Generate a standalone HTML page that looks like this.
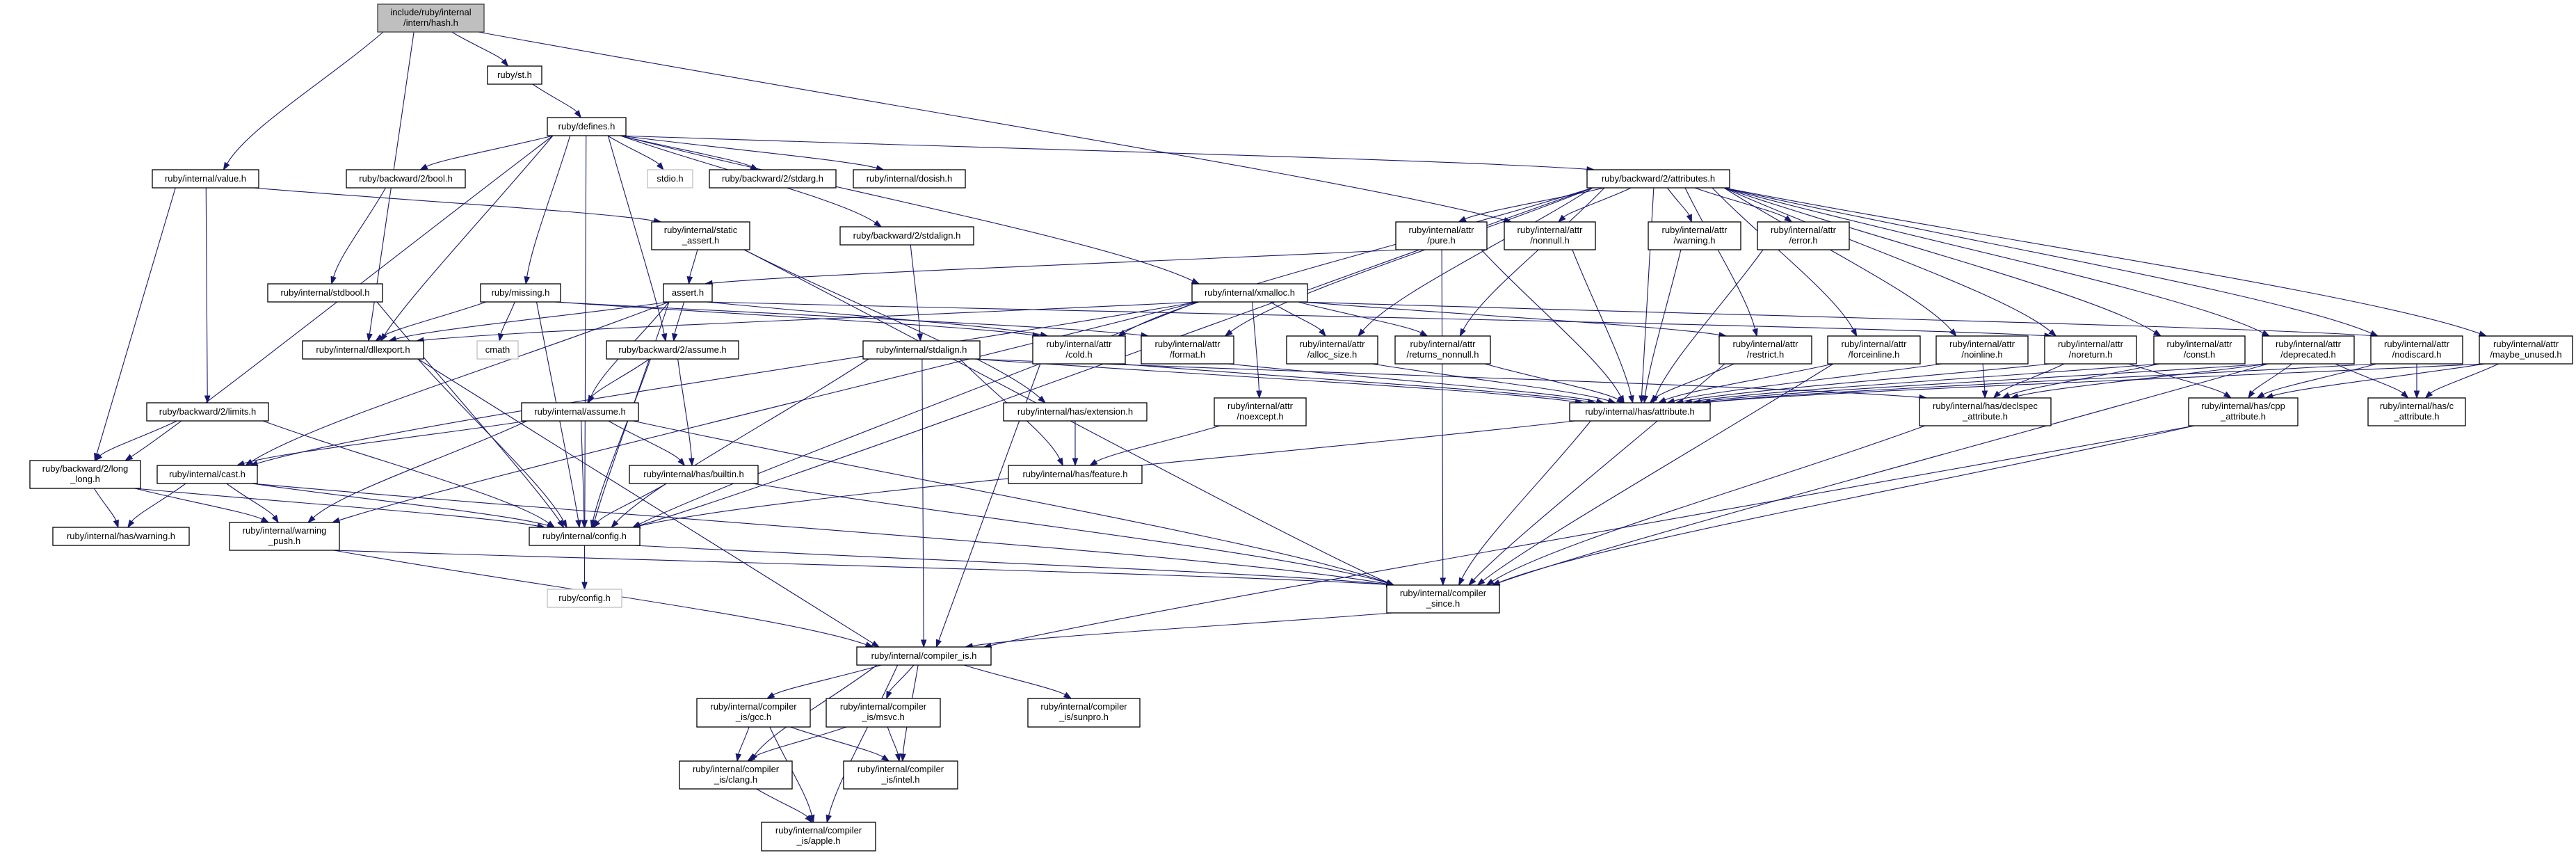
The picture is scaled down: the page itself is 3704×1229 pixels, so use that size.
<!DOCTYPE html>
<html><head><meta charset="utf-8"><style>
html,body{margin:0;padding:0;background:#fff;}
svg{display:block}
text{font-family:"Liberation Sans",sans-serif;font-size:13px;fill:#000;text-anchor:middle}
</style></head><body>
<svg id="g" width="3704" height="1229" viewBox="0 0 3704 1229" xmlns="http://www.w3.org/2000/svg">
<g id="edges" fill="none" stroke="#191970" stroke-width="1.1"></g>
<g id="heads" fill="#191970" stroke="#191970"></g>
<g id="nodes">
<rect x="543" y="6" width="153" height="40" fill="#bfbfbf" stroke="#404040" stroke-width="1.3"/><text x="619.5" y="22">include/ruby/internal</text><text x="619.5" y="37">/intern/hash.h</text>
<rect x="701" y="95" width="78" height="26" fill="#fff" stroke="#000" stroke-width="1.3"/><text x="740" y="112">ruby/st.h</text>
<rect x="787" y="169" width="113" height="26" fill="#fff" stroke="#000" stroke-width="1.3"/><text x="843.5" y="186">ruby/defines.h</text>
<rect x="219" y="244" width="153" height="26" fill="#fff" stroke="#000" stroke-width="1.3"/><text x="295.5" y="261">ruby/internal/value.h</text>
<rect x="498" y="244" width="171" height="26" fill="#fff" stroke="#000" stroke-width="1.3"/><text x="583.5" y="261">ruby/backward/2/bool.h</text>
<rect x="931" y="244" width="65" height="26" fill="#fff" stroke="#bfbfbf" stroke-width="1.3"/><text x="963.5" y="261">stdio.h</text>
<rect x="1020" y="244" width="182" height="26" fill="#fff" stroke="#000" stroke-width="1.3"/><text x="1111" y="261">ruby/backward/2/stdarg.h</text>
<rect x="1227" y="244" width="161" height="26" fill="#fff" stroke="#000" stroke-width="1.3"/><text x="1307.5" y="261">ruby/internal/dosish.h</text>
<rect x="2282" y="244" width="205" height="26" fill="#fff" stroke="#000" stroke-width="1.3"/><text x="2384.5" y="261">ruby/backward/2/attributes.h</text>
<rect x="937" y="319" width="141" height="40" fill="#fff" stroke="#000" stroke-width="1.3"/><text x="1007.5" y="335">ruby/internal/static</text><text x="1007.5" y="350">_assert.h</text>
<rect x="1208" y="326" width="192" height="26" fill="#fff" stroke="#000" stroke-width="1.3"/><text x="1304" y="343">ruby/backward/2/stdalign.h</text>
<rect x="2007" y="319" width="131" height="40" fill="#fff" stroke="#000" stroke-width="1.3"/><text x="2072.5" y="335">ruby/internal/attr</text><text x="2072.5" y="350">/pure.h</text>
<rect x="2163" y="319" width="131" height="40" fill="#fff" stroke="#000" stroke-width="1.3"/><text x="2228.5" y="335">ruby/internal/attr</text><text x="2228.5" y="350">/nonnull.h</text>
<rect x="2370" y="319" width="133" height="40" fill="#fff" stroke="#000" stroke-width="1.3"/><text x="2436.5" y="335">ruby/internal/attr</text><text x="2436.5" y="350">/warning.h</text>
<rect x="2527" y="319" width="132" height="40" fill="#fff" stroke="#000" stroke-width="1.3"/><text x="2593" y="335">ruby/internal/attr</text><text x="2593" y="350">/error.h</text>
<rect x="385" y="408" width="165" height="26" fill="#fff" stroke="#000" stroke-width="1.3"/><text x="467.5" y="425">ruby/internal/stdbool.h</text>
<rect x="691" y="408" width="115" height="26" fill="#fff" stroke="#000" stroke-width="1.3"/><text x="748.5" y="425">ruby/missing.h</text>
<rect x="954" y="408" width="70" height="26" fill="#fff" stroke="#000" stroke-width="1.3"/><text x="989" y="425">assert.h</text>
<rect x="1714" y="408" width="166" height="26" fill="#fff" stroke="#000" stroke-width="1.3"/><text x="1797" y="425">ruby/internal/xmalloc.h</text>
<rect x="435" y="490" width="174" height="26" fill="#fff" stroke="#000" stroke-width="1.3"/><text x="522" y="507">ruby/internal/dllexport.h</text>
<rect x="686" y="490" width="59" height="26" fill="#fff" stroke="#bfbfbf" stroke-width="1.3"/><text x="715.5" y="507">cmath</text>
<rect x="872" y="490" width="190" height="26" fill="#fff" stroke="#000" stroke-width="1.3"/><text x="967" y="507">ruby/backward/2/assume.h</text>
<rect x="1241" y="490" width="168" height="26" fill="#fff" stroke="#000" stroke-width="1.3"/><text x="1325" y="507">ruby/internal/stdalign.h</text>
<rect x="1485" y="483" width="133" height="40" fill="#fff" stroke="#000" stroke-width="1.3"/><text x="1551.5" y="499">ruby/internal/attr</text><text x="1551.5" y="514">/cold.h</text>
<rect x="1641" y="483" width="133" height="40" fill="#fff" stroke="#000" stroke-width="1.3"/><text x="1707.5" y="499">ruby/internal/attr</text><text x="1707.5" y="514">/format.h</text>
<rect x="1850" y="483" width="131" height="40" fill="#fff" stroke="#000" stroke-width="1.3"/><text x="1915.5" y="499">ruby/internal/attr</text><text x="1915.5" y="514">/alloc_size.h</text>
<rect x="2006" y="483" width="137" height="40" fill="#fff" stroke="#000" stroke-width="1.3"/><text x="2074.5" y="499">ruby/internal/attr</text><text x="2074.5" y="514">/returns_nonnull.h</text>
<rect x="2472" y="483" width="133" height="40" fill="#fff" stroke="#000" stroke-width="1.3"/><text x="2538.5" y="499">ruby/internal/attr</text><text x="2538.5" y="514">/restrict.h</text>
<rect x="2628" y="483" width="133" height="40" fill="#fff" stroke="#000" stroke-width="1.3"/><text x="2694.5" y="499">ruby/internal/attr</text><text x="2694.5" y="514">/forceinline.h</text>
<rect x="2784" y="483" width="132" height="40" fill="#fff" stroke="#000" stroke-width="1.3"/><text x="2850" y="499">ruby/internal/attr</text><text x="2850" y="514">/noinline.h</text>
<rect x="2940" y="483" width="132" height="40" fill="#fff" stroke="#000" stroke-width="1.3"/><text x="3006" y="499">ruby/internal/attr</text><text x="3006" y="514">/noreturn.h</text>
<rect x="3097" y="483" width="131" height="40" fill="#fff" stroke="#000" stroke-width="1.3"/><text x="3162.5" y="499">ruby/internal/attr</text><text x="3162.5" y="514">/const.h</text>
<rect x="3253" y="483" width="132" height="40" fill="#fff" stroke="#000" stroke-width="1.3"/><text x="3319" y="499">ruby/internal/attr</text><text x="3319" y="514">/deprecated.h</text>
<rect x="3409" y="483" width="132" height="40" fill="#fff" stroke="#000" stroke-width="1.3"/><text x="3475" y="499">ruby/internal/attr</text><text x="3475" y="514">/nodiscard.h</text>
<rect x="3565" y="483" width="134" height="40" fill="#fff" stroke="#000" stroke-width="1.3"/><text x="3632" y="499">ruby/internal/attr</text><text x="3632" y="514">/maybe_unused.h</text>
<rect x="211" y="579" width="175" height="26" fill="#fff" stroke="#000" stroke-width="1.3"/><text x="298.5" y="596">ruby/backward/2/limits.h</text>
<rect x="750" y="579" width="168" height="26" fill="#fff" stroke="#000" stroke-width="1.3"/><text x="834" y="596">ruby/internal/assume.h</text>
<rect x="1443" y="579" width="206" height="26" fill="#fff" stroke="#000" stroke-width="1.3"/><text x="1546" y="596">ruby/internal/has/extension.h</text>
<rect x="1746" y="572" width="132" height="40" fill="#fff" stroke="#000" stroke-width="1.3"/><text x="1812" y="588">ruby/internal/attr</text><text x="1812" y="603">/noexcept.h</text>
<rect x="2257" y="579" width="202" height="26" fill="#fff" stroke="#000" stroke-width="1.3"/><text x="2358" y="596">ruby/internal/has/attribute.h</text>
<rect x="2760" y="572" width="189" height="40" fill="#fff" stroke="#000" stroke-width="1.3"/><text x="2854.5" y="588">ruby/internal/has/declspec</text><text x="2854.5" y="603">_attribute.h</text>
<rect x="3147" y="572" width="157" height="40" fill="#fff" stroke="#000" stroke-width="1.3"/><text x="3225.5" y="588">ruby/internal/has/cpp</text><text x="3225.5" y="603">_attribute.h</text>
<rect x="3405" y="572" width="140" height="40" fill="#fff" stroke="#000" stroke-width="1.3"/><text x="3475" y="588">ruby/internal/has/c</text><text x="3475" y="603">_attribute.h</text>
<rect x="43" y="662" width="159" height="40" fill="#fff" stroke="#000" stroke-width="1.3"/><text x="122.5" y="678">ruby/backward/2/long</text><text x="122.5" y="693">_long.h</text>
<rect x="226" y="669" width="144" height="26" fill="#fff" stroke="#000" stroke-width="1.3"/><text x="298" y="686">ruby/internal/cast.h</text>
<rect x="905" y="669" width="185" height="26" fill="#fff" stroke="#000" stroke-width="1.3"/><text x="997.5" y="686">ruby/internal/has/builtin.h</text>
<rect x="1450" y="669" width="192" height="26" fill="#fff" stroke="#000" stroke-width="1.3"/><text x="1546" y="686">ruby/internal/has/feature.h</text>
<rect x="76" y="758" width="196" height="26" fill="#fff" stroke="#000" stroke-width="1.3"/><text x="174" y="775">ruby/internal/has/warning.h</text>
<rect x="330" y="751" width="158" height="40" fill="#fff" stroke="#000" stroke-width="1.3"/><text x="409" y="767">ruby/internal/warning</text><text x="409" y="782">_push.h</text>
<rect x="761" y="758" width="159" height="26" fill="#fff" stroke="#000" stroke-width="1.3"/><text x="840.5" y="775">ruby/internal/config.h</text>
<rect x="787" y="847" width="107" height="26" fill="#fff" stroke="#bfbfbf" stroke-width="1.3"/><text x="840.5" y="864">ruby/config.h</text>
<rect x="1994" y="841" width="162" height="40" fill="#fff" stroke="#000" stroke-width="1.3"/><text x="2075" y="857">ruby/internal/compiler</text><text x="2075" y="872">_since.h</text>
<rect x="1232" y="930" width="193" height="26" fill="#fff" stroke="#000" stroke-width="1.3"/><text x="1328.5" y="947">ruby/internal/compiler_is.h</text>
<rect x="1002" y="1004" width="163" height="41" fill="#fff" stroke="#000" stroke-width="1.3"/><text x="1083.5" y="1020">ruby/internal/compiler</text><text x="1083.5" y="1035">_is/gcc.h</text>
<rect x="1188" y="1004" width="164" height="41" fill="#fff" stroke="#000" stroke-width="1.3"/><text x="1270" y="1020">ruby/internal/compiler</text><text x="1270" y="1035">_is/msvc.h</text>
<rect x="1478" y="1004" width="161" height="41" fill="#fff" stroke="#000" stroke-width="1.3"/><text x="1558.5" y="1020">ruby/internal/compiler</text><text x="1558.5" y="1035">_is/sunpro.h</text>
<rect x="977" y="1094" width="162" height="40" fill="#fff" stroke="#000" stroke-width="1.3"/><text x="1058" y="1110">ruby/internal/compiler</text><text x="1058" y="1125">_is/clang.h</text>
<rect x="1213" y="1094" width="164" height="40" fill="#fff" stroke="#000" stroke-width="1.3"/><text x="1295" y="1110">ruby/internal/compiler</text><text x="1295" y="1125">_is/intel.h</text>
<rect x="1095" y="1182" width="164" height="41" fill="#fff" stroke="#000" stroke-width="1.3"/><text x="1177" y="1198">ruby/internal/compiler</text><text x="1177" y="1213">_is/apple.h</text>
</g>
</svg>
<script>
var N={hash:[543,6,696,46],st:[701,95,779,121],defines:[787,169,900,195],value:[219,244,372,270],bool:[498,244,669,270],stdio:[931,244,996,270],stdarg:[1020,244,1202,270],dosish:[1227,244,1388,270],attributes:[2282,244,2487,270],static_assert:[937,319,1078,359],stdalign_b:[1208,326,1400,352],pure:[2007,319,2138,359],nonnull:[2163,319,2294,359],warning:[2370,319,2503,359],error:[2527,319,2659,359],stdbool:[385,408,550,434],missing:[691,408,806,434],assert:[954,408,1024,434],xmalloc:[1714,408,1880,434],dllexport:[435,490,609,516],cmath:[686,490,745,516],assume_b:[872,490,1062,516],stdalign_i:[1241,490,1409,516],cold:[1485,483,1618,523],format:[1641,483,1774,523],alloc_size:[1850,483,1981,523],returns_nonnull:[2006,483,2143,523],restrict:[2472,483,2605,523],forceinline:[2628,483,2761,523],noinline:[2784,483,2916,523],noreturn:[2940,483,3072,523],"const":[3097,483,3228,523],deprecated:[3253,483,3385,523],nodiscard:[3409,483,3541,523],maybe_unused:[3565,483,3699,523],limits:[211,579,386,605],assume_i:[750,579,918,605],has_extension:[1443,579,1649,605],noexcept:[1746,572,1878,612],has_attribute:[2257,579,2459,605],declspec:[2760,572,2949,612],cpp:[3147,572,3304,612],c:[3405,572,3545,612],long_long:[43,662,202,702],cast:[226,669,370,695],has_builtin:[905,669,1090,695],has_feature:[1450,669,1642,695],has_warning:[76,758,272,784],warning_push:[330,751,488,791],config:[761,758,920,784],ruby_config:[787,847,894,873],compiler_since:[1994,841,2156,881],compiler_is:[1232,930,1425,956],gcc:[1002,1004,1165,1045],msvc:[1188,1004,1352,1045],sunpro:[1478,1004,1639,1045],clang:[977,1094,1139,1134],intel:[1213,1094,1377,1134],apple:[1095,1182,1259,1223]};
var E={hash:"value dllexport st nonnull",st:"defines",defines:"long_long dllexport bool missing assume_b stdio stdarg dosish attributes stdalign_b xmalloc config",value:"static_assert long_long limits",bool:"stdbool",stdbool:"config",static_assert:"assert has_extension compiler_since",stdalign_b:"stdalign_i",missing:"dllexport cmath config cold format",assert:"dllexport assume_b assume_i cast cold noreturn config",xmalloc:"dllexport alloc_size returns_nonnull noexcept restrict nodiscard config cast warning_push",attributes:"pure nonnull warning error cold format alloc_size returns_nonnull restrict forceinline noinline noreturn const deprecated nodiscard maybe_unused has_attribute config",pure:"assert has_attribute compiler_since",nonnull:"has_attribute",warning:"has_attribute",error:"has_attribute",stdalign_i:"config compiler_is has_attribute has_feature declspec",cold:"has_attribute compiler_is",format:"has_attribute",alloc_size:"has_attribute",returns_nonnull:"has_attribute",noexcept:"has_feature",restrict:"has_attribute compiler_since",forceinline:"has_attribute compiler_since",noinline:"has_attribute declspec",noreturn:"has_attribute declspec cpp","const":"has_attribute declspec",deprecated:"has_attribute declspec cpp c compiler_since",nodiscard:"has_attribute cpp c",maybe_unused:"has_attribute cpp c",has_attribute:"config compiler_since",declspec:"compiler_since",cpp:"compiler_since compiler_is",has_extension:"has_feature",dllexport:"config compiler_is",assume_b:"assume_i config has_builtin",assume_i:"cast config has_builtin warning_push compiler_since",limits:"long_long config",long_long:"has_warning warning_push config",cast:"has_warning warning_push config compiler_since",has_builtin:"config compiler_since",warning_push:"compiler_since compiler_is",config:"ruby_config compiler_since",compiler_since:"compiler_is",compiler_is:"gcc msvc sunpro clang intel apple",gcc:"clang intel apple",msvc:"clang intel",clang:"apple"};
var ns="http://www.w3.org/2000/svg",eg=document.getElementById("edges"),hg=document.getElementById("heads");
function cl(v,a,b){return Math.max(a,Math.min(b,v));}
for(var s in E){E[s].split(" ").forEach(function(t){
 var S=N[s],T=N[t];var scx=(S[0]+S[2])/2,tcx=(T[0]+T[2])/2;
 var dx=tcx-scx;
 var sx=cl(scx+dx*0.25,S[0]+8,S[2]-8),sy=S[3];
 var tx=cl(tcx-dx*0.08,T[0]+10,T[2]-10),ty=T[1];
 var dy=ty-sy;
 var c1x=sx+(tx-sx)*0.35,c1y=sy+dy*0.35;
 var c2x=tx-(tx-sx)*0.15,c2y=ty-Math.min(Math.abs(dy)*0.3,60);
 var ux=tx-c2x,uy=ty-c2y,L=Math.sqrt(ux*ux+uy*uy)||1;ux/=L;uy/=L;
 var bx=tx-ux*10,by=ty-uy*10;
 var p=document.createElementNS(ns,"path");p.setAttribute("d","M"+sx+","+sy+" C"+c1x+","+c1y+" "+c2x+","+c2y+" "+bx+","+by);eg.appendChild(p);
 var h=document.createElementNS(ns,"polygon");h.setAttribute("points",tx+","+ty+" "+(bx-uy*3.6)+","+(by+ux*3.6)+" "+(bx+uy*3.6)+","+(by-ux*3.6));hg.appendChild(h);
});}
</script>
</body></html>
